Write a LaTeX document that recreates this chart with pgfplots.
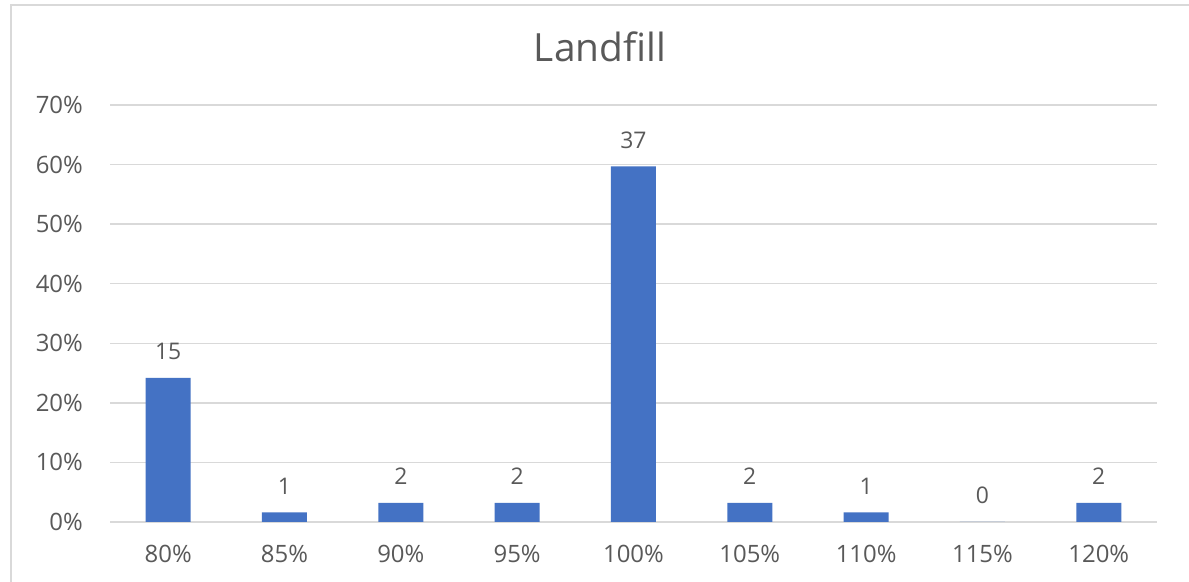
\documentclass[border=0pt]{standalone}
\usepackage{pgfplots}
\pgfplotsset{compat=1.18}
\usepackage{fontspec}
\setmainfont{Open Sans}
\definecolor{txt}{HTML}{595959}
\definecolor{grd}{HTML}{D9D9D9}
\definecolor{bar}{HTML}{4472C4}
\begin{document}
\begin{tikzpicture}[x=1bp,y=1bp]
\useasboundingbox (0,0) rectangle (1189,582);
\fill[white] (0,0) rectangle (1189,582);
\draw[grd, line width=1.5bp] (11,-10) -- (11,577) -- (1200,577);
\node[anchor=base, text=txt, font=\fontsize{39}{46}\selectfont, inner sep=0] at (600,520) {Landfill};
\begin{axis}[
  at={(110bp,60bp)}, anchor=south west,
  scale only axis, width=1047bp, height=417bp,
  xmin=-0.5, xmax=8.5, ymin=0, ymax=70,
  axis line style={draw=none},
  major tick length=0pt,
  ytick={0,10,...,70},
  yticklabel={\pgfmathprintnumber{\tick}\%},
  xtick={0,...,8},
  xticklabels={80\%,85\%,90\%,95\%,100\%,105\%,110\%,115\%,120\%},
  ymajorgrids, grid style={grd, line width=1.5bp},
  /pgf/number format/assume math mode=true,
  tick label style={text=txt, font=\fontsize{24}{28}\selectfont, inner sep=0pt},
  yticklabel style={xshift=-27bp},
  xticklabel style={yshift=-23bp},
  ybar, bar width=45bp,
  nodes near coords, point meta=explicit symbolic,
  nodes near coords style={text=txt, font=\fontsize{23}{27}\selectfont, inner sep=0pt, anchor=south, yshift=18bp},
]
\addplot[fill=bar, draw=none] coordinates {
(0,24.19) [15]
(1,1.61) [1]
(2,3.23) [2]
(3,3.23) [2]
(4,59.68) [37]
(5,3.23) [2]
(6,1.61) [1]
(7,0) [0]
(8,3.23) [2]
};
\end{axis}
\end{tikzpicture}
\end{document}
